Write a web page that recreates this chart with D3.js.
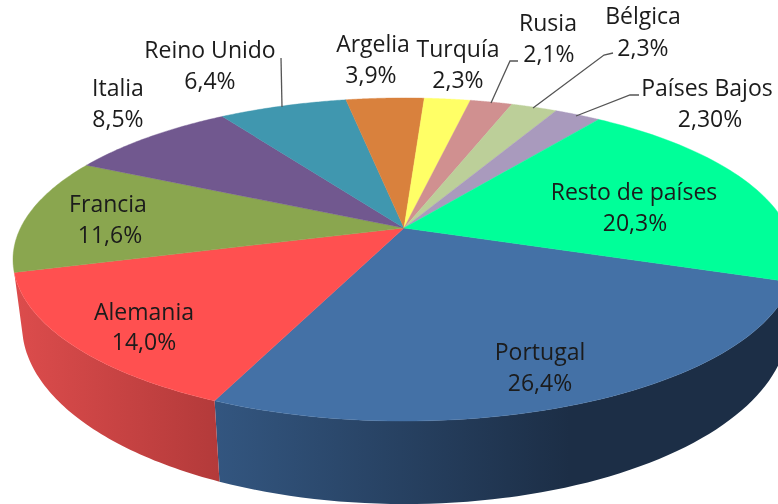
<!DOCTYPE html>
<html>
<head>
<meta charset="utf-8">
<script src="https://cdn.jsdelivr.net/npm/d3@7"></script>
<style>
  body { margin: 0; background: #fff; overflow: hidden; }
  text { font-family: "Open Sans", sans-serif; font-size: 23px; text-anchor: middle; }
</style>
</head>
<body>
<div id="chart"></div>
<script>
const countries = ['Portugal', 'Alemania', 'Francia', 'Italia', 'Reino Unido', 'Argelia',
  'Turquía', 'Rusia', 'Bélgica', 'Países Bajos', 'Resto de países'];
const shares = [26.4, 14.0, 11.6, 8.5, 6.4, 3.9, 2.3, 2.1, 2.3, 2.3, 20.3];
const shareLabels = ['26,4%', '14,0%', '11,6%', '8,5%', '6,4%', '3,9%', '2,3%', '2,1%', '2,3%', '2,30%', '20,3%'];
const colors = ['#4471a6', '#ff5050', '#8aa64f', '#71588f', '#4097af', '#d9813d',
  '#ffff66', '#d09090', '#bccf99', '#a99abd', '#00ff99'];

const width = 778;
const height = 504;

// label placement: [x, baseline name, x, baseline share]
const labelPos = [
  [540, 360, 540, 391], [144, 320, 144, 350], [108, 212, 110, 243], [118, 96, 118, 127],
  [210, 58, 210, 89], [373, 52, 371, 83], [458, 57, 458, 88], [548, 31, 549, 62],
  [643, 24, 643, 56], [707, 96, 710, 127], [634, 200, 635, 231],
];
const leaders = [
  [[281, 58], [282, 107]],
  [[518, 61], [510, 61], [491, 103]],
  [[613, 53], [604, 55], [533, 108]],
  [[639, 95], [630, 95], [576, 116]],
];

// perspective of the disc, the apex sits above the centre of the ellipse
const apex = { x: 404, y: 228 };
const sx = 383.5;
const sy = 155.4;
const k = 0.195;
const topE = { cx: 404, cy: 259.5, rx: 391, ry: 161.5 };
const botE = { cx: 405, cy: 325, rx: 383, ry: 179 };

function rim(a) {
  const s = -Math.cos(a);
  const w = 1 - k * s;
  return [apex.x + sx * Math.sin(a) / w, apex.y + sy * s / w];
}

// same ellipse parameter on the lower rim
function lowerRim(a) {
  const p = rim(a);
  const cos = (p[0] - topE.cx) / topE.rx;
  const sin = (p[1] - topE.cy) / topE.ry;
  return [botE.cx + botE.rx * cos, botE.cy + botE.ry * sin];
}

const svg = d3.select('#chart').append('svg')
  .attr('width', width)
  .attr('height', height);

const defs = svg.append('defs');
defs.append('filter').attr('id', 'soft')
  .append('feGaussianBlur').attr('stdDeviation', 0.4);

const walls = [
  { i: 0, id: 'wallBlue', x1: 214, x2: 570, from: '#335680', to: '#1c2e46' },
  { i: 1, id: 'wallRed', x1: 15, x2: 220, from: '#dc4c4c', to: '#b33a3a' },
];
walls.forEach((w) => {
  const g = defs.append('linearGradient').attr('id', w.id)
    .attr('gradientUnits', 'userSpaceOnUse')
    .attr('x1', w.x1).attr('x2', w.x2)
    .attr('y1', 0).attr('y2', 0);
  g.append('stop').attr('offset', 0).attr('stop-color', w.from);
  g.append('stop').attr('offset', 1).attr('stop-color', w.to);
});

const startAngle = 109 * Math.PI / 180;
const slices = d3.pie().sort(null)
  .startAngle(startAngle)
  .endAngle(startAngle + 2 * Math.PI)(shares);

const line = d3.line();
const arcAngles = d => d3.range(0, 61).map(j => d.startAngle + (d.endAngle - d.startAngle) * j / 60);

// side walls first, only Portugal and Alemania are visible
svg.selectAll('.wall')
  .data(walls)
  .enter().append('path')
  .attr('class', 'wall')
  .attr('fill', d => `url(#${d.id})`)
  .attr('d', (w) => {
    const angles = arcAngles(slices[w.i]);
    return `${line(angles.map(rim).concat(angles.reverse().map(lowerRim)))}Z`;
  });

svg.selectAll('.slice')
  .data(slices)
  .enter().append('path')
  .attr('class', 'slice')
  .attr('fill', (d, i) => colors[i])
  .attr('stroke', (d, i) => colors[i])
  .attr('stroke-width', 0.4)
  .attr('d', d => `${line([[apex.x, apex.y]].concat(arcAngles(d).map(rim)))}Z`);

svg.selectAll('.leader')
  .data(leaders)
  .enter().append('path')
  .attr('class', 'leader')
  .attr('fill', 'none')
  .attr('stroke', '#555')
  .attr('stroke-width', 1.3)
  .attr('d', d => line(d));

const labels = svg.append('g').attr('filter', 'url(#soft)');

labels.selectAll('.name')
  .data(countries)
  .enter().append('text')
  .attr('class', 'name')
  .attr('x', (d, i) => labelPos[i][0])
  .attr('y', (d, i) => labelPos[i][1])
  .attr('fill', '#1a1a1a')
  .text(d => d);

labels.selectAll('.share')
  .data(shareLabels)
  .enter().append('text')
  .attr('class', 'share')
  .attr('x', (d, i) => labelPos[i][2])
  .attr('y', (d, i) => labelPos[i][3])
  .attr('fill', '#1a1a1a')
  .text(d => d);
</script>
</body>
</html>
